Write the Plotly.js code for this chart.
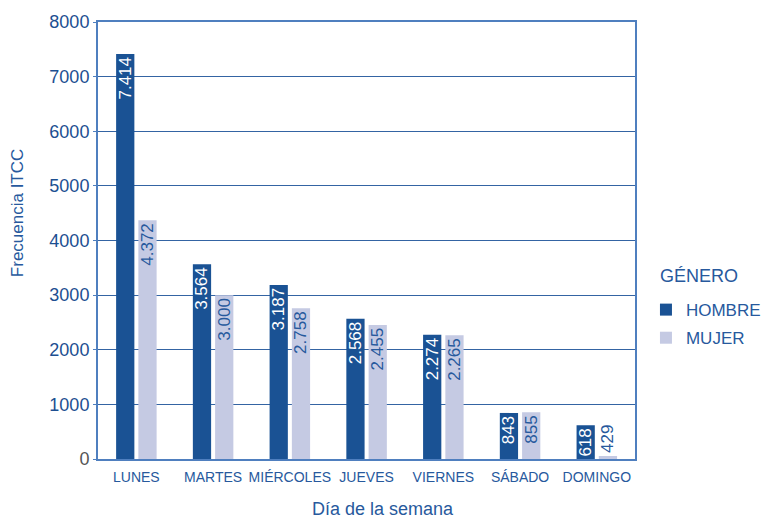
<!DOCTYPE html>
<html><head><meta charset="utf-8">
<script src="https://cdn.plot.ly/plotly-3.0.1.min.js"></script>
<style>body{margin:0;background:#fff}#c{width:763px;height:519px}</style>
</head><body><div id="c"></div>
<script>
const dias = ["LUNES","MARTES","MIÉRCOLES","JUEVES","VIERNES","SÁBADO","DOMINGO"];
const hombre = [7414, 3564, 3187, 2568, 2274, 843, 618];
const mujer = [4372, 3000, 2758, 2455, 2265, 855, 55];
const hombreLabels = ["7.414","3.564","3.187","2.568","2.274","843","618"];
const mujerLabels = ["4.372","3.000","2.758","2.455","2.265","855","429"];
const yTicks = [0,1000,2000,3000,4000,5000,6000,7000,8000];
const yTickText = ["<span style='color:#555555'>0</span>","1000","2000","3000","4000","5000","6000","7000","8000"];

const FONT = "'Liberation Sans Narrow', 'Arial Narrow', 'Liberation Sans', Arial, sans-serif";
const BLUE = "#1d4f91";
const TXT = "#27599d";
const AX = "#4f7fbf";
const GRID = "#3464a3";

const data = [
  {type:"bar", name:"HOMBRE", legendgroup:"h", x:dias, y:hombre, text:hombreLabels,
   marker:{color:"#1a5294"}, textangle:-90, textposition:"inside",
   insidetextanchor:"end", constraintext:"none", cliponaxis:false,
   insidetextfont:{color:"#ffffff", size:17, family:FONT},
   outsidetextfont:{color:TXT, size:17, family:FONT}, hoverinfo:"none"},
  {type:"bar", name:"MUJER", legendgroup:"m", x:dias, y:mujer, text:mujerLabels,
   marker:{color:"#c5cae3"}, textangle:-90,
   textposition:["inside","inside","inside","inside","inside","inside","outside"],
   insidetextanchor:"end", constraintext:"none", cliponaxis:false,
   insidetextfont:{color:TXT, size:17, family:FONT},
   outsidetextfont:{color:TXT, size:17, family:FONT}, hoverinfo:"none"}
];

const layout = {
  width:763, height:519,
  margin:{l:98, r:0, t:22, b:60, autoexpand:false},
  paper_bgcolor:"#fff", plot_bgcolor:"#fff",
  font:{family:FONT, color:TXT},
  barmode:"group", bargap:0.42, bargroupgap:0.18,
  showlegend:true,
  legend:{x:0.824, y:0.382, xanchor:"left", yanchor:"top",
    font:{size:17, color:TXT, family:FONT}, itemsizing:"constant", tracegroupgap:3,
    bgcolor:"rgba(0,0,0,0)"},
  annotations:[
    {text:"GÉNERO", xref:"paper", yref:"paper", x:0.842, y:0.419, xanchor:"left", yanchor:"middle",
     showarrow:false, font:{size:18, color:TXT, family:FONT}},
    {text:"Frecuencia ITCC", xref:"paper", yref:"paper", x:-0.12, y:0.563, xanchor:"center", yanchor:"middle",
     textangle:-90, showarrow:false, font:{size:17, color:TXT, family:FONT}},
    {text:"Día de la semana", xref:"paper", yref:"paper", x:0.428, y:-0.114, xanchor:"center", yanchor:"middle",
     showarrow:false, font:{size:18, color:TXT, family:FONT}}
  ],
  xaxis:{domain:[0, 0.8078], showline:true, linecolor:AX, linewidth:2, mirror:true,
    ticks:"", ticklabelstandoff:4, tickfont:{size:14, color:TXT, family:FONT}},
  yaxis:{range:[0,8000], tickvals:yTicks, ticktext:yTickText, showline:true, linecolor:AX, linewidth:2, mirror:true,
    ticks:"outside", ticklen:3, tickcolor:AX, gridcolor:GRID, gridwidth:1,
    tickfont:{size:18, color:BLUE, family:FONT}, zeroline:false}
};
Plotly.newPlot("c", data, layout, {displayModeBar:false, staticPlot:true});
</script></body></html>
